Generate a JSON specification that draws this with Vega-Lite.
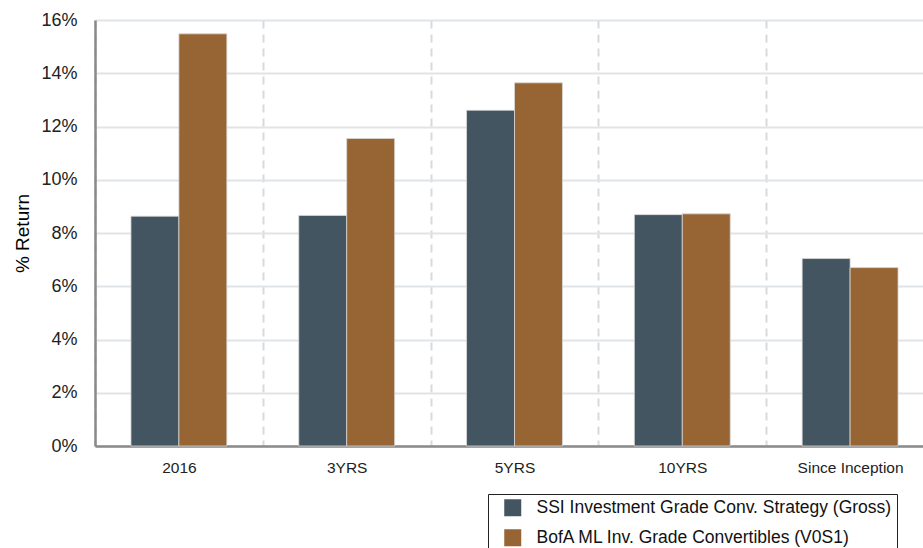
{
  "$schema": "https://vega.github.io/schema/vega-lite/v6.json",
  "autosize": {"type": "none"},
  "padding": {"left": 95, "top": 20, "right": 0, "bottom": 102},
  "width": 828,
  "height": 426,
  "background": "white",
  "config": {
    "font": "Liberation Sans",
    "view": {"stroke": null},
    "axis": {"labelFont": "Liberation Sans", "titleFont": "Liberation Sans"}
  },
  "data": {
    "values": [
      {"period": "2016", "series": "SSI Investment Grade Conv. Strategy (Gross)", "ret": 8.63},
      {"period": "2016", "series": "BofA ML Inv. Grade Convertibles (V0S1)", "ret": 15.48},
      {"period": "3YRS", "series": "SSI Investment Grade Conv. Strategy (Gross)", "ret": 8.66},
      {"period": "3YRS", "series": "BofA ML Inv. Grade Convertibles (V0S1)", "ret": 11.55},
      {"period": "5YRS", "series": "SSI Investment Grade Conv. Strategy (Gross)", "ret": 12.61},
      {"period": "5YRS", "series": "BofA ML Inv. Grade Convertibles (V0S1)", "ret": 13.64},
      {"period": "10YRS", "series": "SSI Investment Grade Conv. Strategy (Gross)", "ret": 8.69},
      {"period": "10YRS", "series": "BofA ML Inv. Grade Convertibles (V0S1)", "ret": 8.72},
      {"period": "Since Inception", "series": "SSI Investment Grade Conv. Strategy (Gross)", "ret": 7.04},
      {"period": "Since Inception", "series": "BofA ML Inv. Grade Convertibles (V0S1)", "ret": 6.70}
    ]
  },
  "mark": {"type": "bar", "stroke": "#d8d8d8", "strokeWidth": 0.8},
  "encoding": {
    "x": {
      "field": "period",
      "type": "nominal",
      "sort": ["2016", "3YRS", "5YRS", "10YRS", "Since Inception"],
      "scale": {"range": [0, 839], "paddingInner": 0, "paddingOuter": 0},
      "axis": {
        "title": null,
        "labelAngle": 0,
        "labelFontSize": 15.5,
        "labelColor": "#222222",
        "labelPadding": 14,
        "ticks": false,
        "tickBand": "extent",
        "grid": true,
        "gridColor": "#d9d9d9",
        "gridWidth": 2,
        "gridDash": [8, 6],
        "domainColor": "#8a8a8a",
        "domainWidth": 2.5
      }
    },
    "xOffset": {
      "field": "series",
      "type": "nominal",
      "sort": ["SSI Investment Grade Conv. Strategy (Gross)", "BofA ML Inv. Grade Convertibles (V0S1)"],
      "scale": {"paddingInner": 0, "paddingOuter": 0.75}
    },
    "y": {
      "field": "ret",
      "type": "quantitative",
      "scale": {"domain": [0, 16], "nice": false},
      "axis": {
        "title": "% Return",
        "titleFontSize": 19,
        "titleFontWeight": "normal",
        "titleColor": "#000000",
        "titlePadding": 8,
        "values": [0, 2, 4, 6, 8, 10, 12, 14, 16],
        "labelExpr": "datum.value + '%'",
        "labelFontSize": 18,
        "labelColor": "#222222",
        "labelPadding": 18,
        "ticks": false,
        "grid": true,
        "gridColor": "#dfe4e8",
        "gridWidth": 2,
        "domainColor": "#8a8a8a",
        "domainWidth": 2.5
      }
    },
    "color": {
      "field": "series",
      "type": "nominal",
      "sort": ["SSI Investment Grade Conv. Strategy (Gross)", "BofA ML Inv. Grade Convertibles (V0S1)"],
      "scale": {
        "domain": ["SSI Investment Grade Conv. Strategy (Gross)", "BofA ML Inv. Grade Convertibles (V0S1)"],
        "range": ["#435560", "#976433"]
      },
      "legend": {
        "title": null,
        "orient": "none",
        "legendX": 393,
        "legendY": 474,
        "direction": "vertical",
        "symbolType": "square",
        "symbolSize": 289,
        "symbolStrokeWidth": 0,
        "symbolOffset": 11,
        "labelOffset": 15,
        "labelFontSize": 17.5,
        "labelColor": "#111111",
        "labelLimit": 0,
        "rowPadding": 11,
        "padding": 5,
        "strokeColor": "#222222"
      }
    }
  }
}
